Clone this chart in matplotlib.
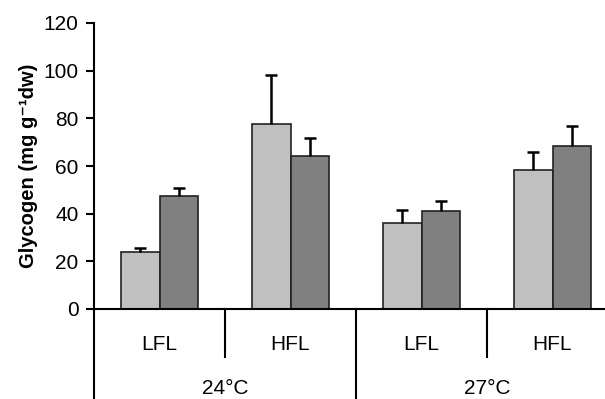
import matplotlib.pyplot as plt
import numpy as np

plt.rcParams['font.family'] = ['Liberation Sans', 'DejaVu Sans']

# Data
groups = ['LFL', 'HFL', 'LFL', 'HFL']
temps = ['24°C', '27°C']
light_vals = [23.8, 77.6, 36.0, 58.3]
light_err = [1.9, 20.7, 5.5, 7.6]
dark_vals = [47.5, 64.1, 41.0, 68.4]
dark_err = [3.4, 7.7, 4.3, 8.4]

x = np.arange(len(groups)) + 0.5  # category centres
width = 0.294

fig = plt.figure(figsize=(6.05, 3.99), dpi=100)
ax = fig.add_axes([94 / 605, 90 / 399, 524 / 605, 286 / 399])

ekw = dict(elinewidth=1.8, capthick=1.8, ecolor='black')
b1 = ax.bar(x - width / 2, light_vals, width, color='#c0c0c0', edgecolor='#222222', linewidth=1.2,
            yerr=[np.zeros(4), light_err], capsize=4.3, error_kw=ekw, zorder=2)
b2 = ax.bar(x + width / 2, dark_vals, width, color='#808080', edgecolor='#222222', linewidth=1.2,
            yerr=[np.zeros(4), dark_err], capsize=4.3, error_kw=ekw, zorder=2)
# only the upper cap is shown
for b in (b1, b2):
    b.errorbar.lines[1][0].set_visible(False)

ax.set_xlim(0, 4)
ax.set_ylim(0, 120)
ax.set_yticks(np.arange(0, 121, 20))
ax.tick_params(axis='y', length=6, width=1.5, pad=5, labelsize=15)
ax.set_xticks(x)
ax.set_xticklabels(groups, fontsize=15)
ax.tick_params(axis='x', length=0, pad=19)

for s in ['top', 'right']:
    ax.spines[s].set_visible(False)
ax.spines['left'].set_linewidth(1.5)
ax.spines['bottom'].set_linewidth(1.5)
ax.spines['left'].set_bounds(0, 120)

# group separators below the axis
for xi in [1, 3]:
    ax.plot([xi, xi], [0, -20], color='black', lw=1.5, clip_on=False)
for xi in [0, 2]:
    ax.plot([xi, xi], [0, -45], color='black', lw=1.5, clip_on=False)

for i, t in enumerate(temps):
    ax.text(2 * i + 1, -33.2, t, ha='center', va='center', fontsize=15)

ax.set_ylabel('Glycogen (mg g\u207b\u00b9dw)', fontsize=14.5, fontweight='bold', labelpad=4)

plt.savefig('out.png', dpi=100)
